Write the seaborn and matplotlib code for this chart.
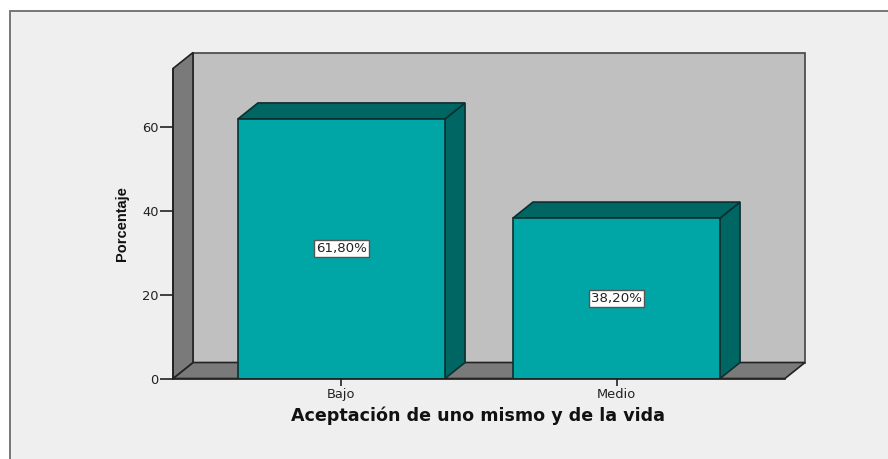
import matplotlib
matplotlib.use("Agg")
import matplotlib.pyplot as plt
from matplotlib.patches import Polygon, Rectangle
import pandas as pd
import seaborn as sns

categorias = ["Bajo", "Medio"]
porcentajes = [61.8, 38.2]
etiquetas = ["61,80%", "38,20%"]
marcas_y = [0, 20, 40, 60]

W, H = 888, 459
# front plane of the chart, in pixels
X0, X1, Y0, Y1 = 173, 785, 378.5, 68.5
YMAX = (Y0 - Y1) / 4.2
XMIN, XMAX = -0.6127, 1.6127
BAR_W = 0.753
DX = 20 / 275.0      # depth offset in data units
DY = 16 / 4.2

TEAL = "#00A6A6"
TEAL_DARK = "#006663"
WALL = "#C0C0C0"
SIDE = "#7A7A7A"
PANEL = "#EFEFEF"
LINE = "#222222"
BAR_LINE = "#0C3030"

sns.set_style("white")
df = pd.DataFrame({"cat": categorias, "pct": porcentajes})

fig = plt.figure(figsize=(W / 100, H / 100), dpi=100, facecolor="white")
fig.add_artist(Rectangle((9.5 / W, -0.1), 1, 1 - 11.5 / H + 0.1, transform=fig.transFigure,
                         facecolor=PANEL, edgecolor="#777777", linewidth=1.4, zorder=-1))

ax = fig.add_axes([X0 / W, 1 - Y0 / H, (X1 - X0) / W, (Y0 - Y1) / H])
ax.patch.set_visible(False)

sns.barplot(data=df, x="cat", y="pct", color=TEAL, saturation=1, width=BAR_W,
            edgecolor=BAR_LINE, linewidth=1.2, zorder=5, ax=ax)
ax.set_xlim(XMIN, XMAX)
ax.set_ylim(0, YMAX)


def poly(pts, fc, z, ec=LINE, lw=1.2):
    ax.add_patch(Polygon(pts, closed=True, facecolor=fc, edgecolor=ec, linewidth=lw,
                         zorder=z, clip_on=False, joinstyle="miter"))


# back wall, floor, left wall
poly([(XMIN + DX, DY), (XMAX + DX, DY), (XMAX + DX, YMAX + DY), (XMIN + DX, YMAX + DY)], WALL, 1, ec="#444444")
poly([(XMIN, 0), (XMAX, 0), (XMAX + DX, DY), (XMIN + DX, DY)], SIDE, 2)
poly([(XMIN, 0), (XMIN + DX, DY), (XMIN + DX, YMAX + DY), (XMIN, YMAX)], SIDE, 2)

# sides and tops of the bars
for i, v in enumerate(porcentajes):
    l, r = i - BAR_W / 2, i + BAR_W / 2
    poly([(r, 0), (r + DX, DY), (r + DX, v + DY), (r, v)], TEAL_DARK, 3, ec=BAR_LINE)
    poly([(l, v), (r, v), (r + DX, v + DY), (l + DX, v + DY)], TEAL_DARK, 3, ec=BAR_LINE)

ax.bar_label(ax.containers[0], labels=etiquetas, label_type="center", fontsize=9.6,
             family="DejaVu Sans", color="#222222", zorder=6,
             bbox=dict(boxstyle="square,pad=0.16", facecolor="white", edgecolor="#555555", linewidth=1))

ax.set_yticks(marcas_y)
ax.tick_params(axis="y", length=9.5, width=1.2, color=LINE, labelsize=9.4, labelcolor="#222222", pad=1, left=True)
ax.tick_params(axis="x", length=5, width=1.2, color=LINE, labelsize=9.4, labelcolor="#222222", pad=1.5, bottom=True)
for s in ["top", "right"]:
    ax.spines[s].set_visible(False)
for s in ["left", "bottom"]:
    ax.spines[s].set_color(LINE)
    ax.spines[s].set_linewidth(1.2)
    ax.spines[s].set_zorder(6)

ax.set_xlabel("")
ax.set_ylabel("")
fig.text(478 / W, 1 - 416 / H, "Aceptación de uno mismo y de la vida", ha="center", va="center",
         fontsize=12.6, fontweight="bold", family="DejaVu Sans", color="#111111")
fig.text(122 / W, 1 - 224 / H, "Porcentaje", ha="center", va="center", rotation=90,
         fontsize=10.5, fontweight="bold", family="Liberation Sans", color="#111111")

fig.savefig("out.png", dpi=100, facecolor="white")
